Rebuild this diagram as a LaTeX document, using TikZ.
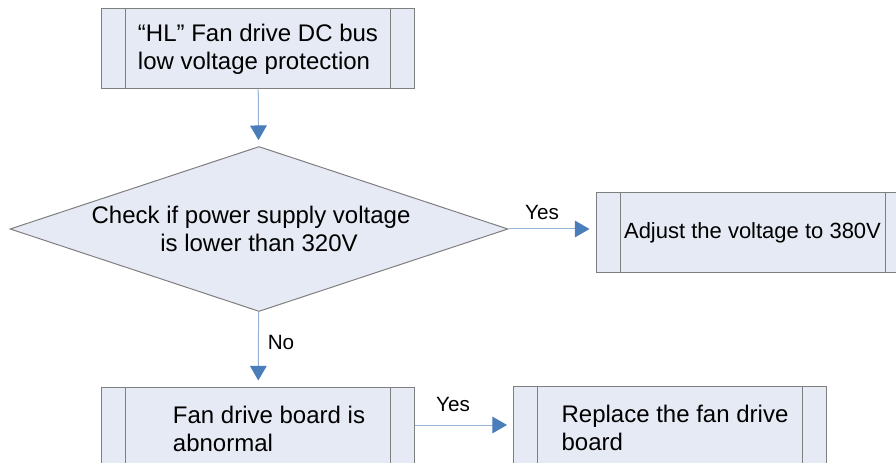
\documentclass[tikz,border=0pt]{standalone}
\usepackage{fontspec}
\setmainfont{Liberation Sans}
\usetikzlibrary{shapes.geometric,arrows.meta}

\definecolor{boxfill}{HTML}{E6EAF4}
\definecolor{boxline}{HTML}{7F7F7F}
\definecolor{linkblue}{HTML}{95B3D7}
\definecolor{tipblue}{HTML}{4A7EBB}

% left padding for the text block inside a box
\newcommand{\padtext}[2]{\begin{tabular}{@{\hspace{#1}}l@{}}#2\end{tabular}}

\tikzset{
  procbox/.style={draw=boxline, fill=boxfill, line width=0.75pt,
    minimum width=234.75pt, minimum height=60pt, inner sep=0pt, align=left,
    font=\fontsize{18}{20.8}\selectfont,
    path picture={
      \draw[boxline, line width=0.75pt]
        ([xshift=18pt]path picture bounding box.north west) -- ([xshift=18pt]path picture bounding box.south west)
        ([xshift=-18pt]path picture bounding box.north east) -- ([xshift=-18pt]path picture bounding box.south east);
    }},
  checkbox/.style={diamond, aspect=3, draw=boxline, fill=boxfill, line width=0.75pt,
    minimum width=373.5pt, minimum height=123.75pt, inner sep=0pt, align=center,
    font=\fontsize{18}{20.8}\selectfont},
  link/.style={draw=linkblue, line width=0.75pt, shorten >=4.5pt,
    -{Triangle[length=11pt, width=12.5pt, color=tipblue]}},
  linklabel/.style={font=\fontsize{15.5}{18}\selectfont, inner sep=0pt}
}

\begin{document}
\begin{tikzpicture}[x=0.75pt, y=-0.75pt]
  \useasboundingbox (0,0) rectangle (896,463);

  % Fault code box
  \node[procbox] (fault) at (258,49) {“HL” Fan drive DC bus\\low voltage protection};

  % Supply voltage check
  \node[checkbox] (check) at (259,229) {\hspace*{-12pt}Check if power supply voltage\\is lower than 320V};

  % Yes: adjust the supply
  \node[procbox, font=\fontsize{16.5}{19}\selectfont] (adjust) at (752.5,232.5) {Adjust the voltage to 380V};

  % No: fan drive board (cut off at the bottom)
  \node[procbox, minimum height=67.5pt] (board) at (258,432) {\padtext{16.5pt}{Fan drive board is\\abnormal}};
  \node[procbox, minimum height=67.5pt] (replace) at (670,431) {\padtext{7.5pt}{Replace the fan drive\\board}};
  \coordinate (yeslevel) at (0,425);

  % Connectors
  \draw[link] (fault) -- (check);
  \draw[link] (check.east) -- (check.east -| adjust.west);
  \draw[link] (check) -- (board);
  \draw[link] (board.east |- yeslevel) -- (replace.west |- yeslevel);

  % Branch labels
  \node[linklabel] (yes1) at (542,212) {Yes};
  \node[linklabel] (no1) at (281,342) {No};
  \node[linklabel] (yes2) at (453,404) {Yes};
\end{tikzpicture}
\end{document}
